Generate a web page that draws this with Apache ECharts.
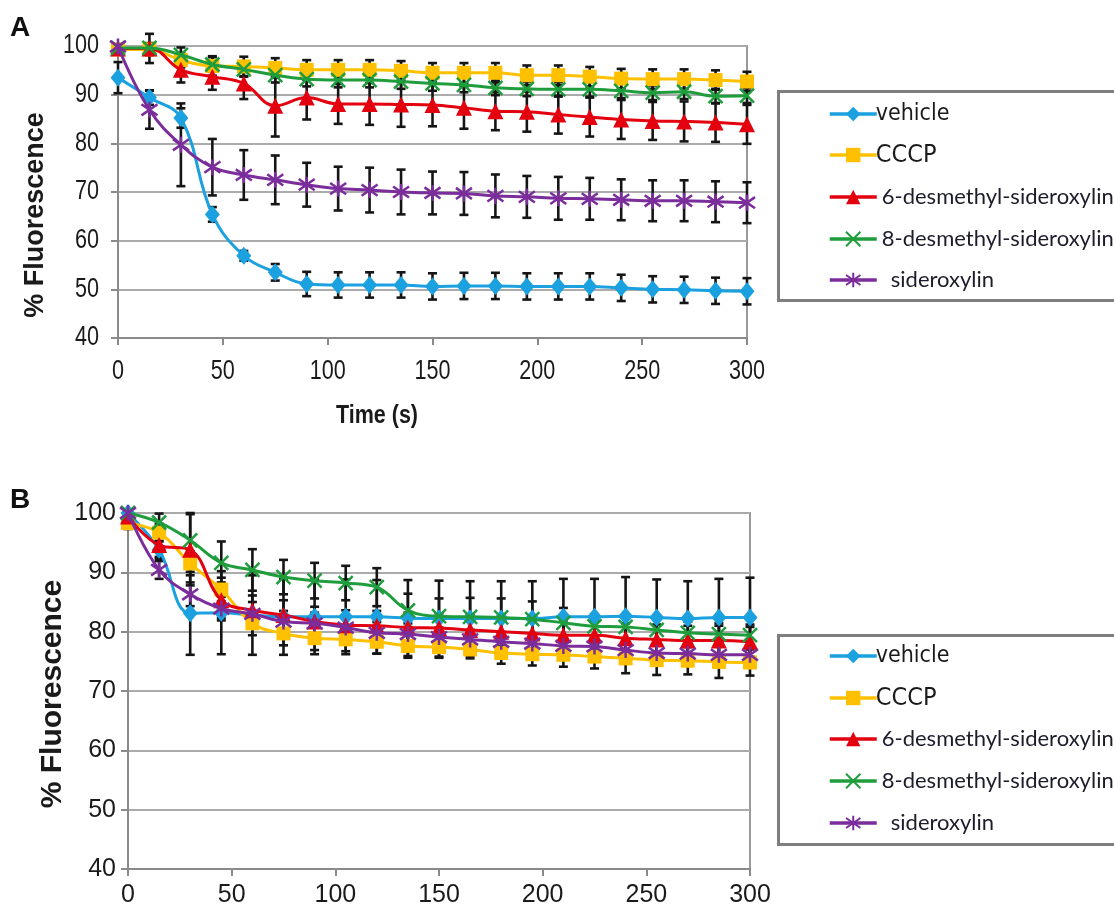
<!DOCTYPE html>
<html>
<head>
<meta charset="utf-8">
<script src="https://cdn.jsdelivr.net/npm/echarts@6/dist/echarts.min.js"></script>
<style>
  html, body { margin: 0; padding: 0; background: #ffffff; }
  #chart { width: 1114px; height: 913px; }
</style>
</head>
<body>
<div id="chart"></div>
<script>
// Sampling times (s)
const times = [0, 15, 30, 45, 60, 75, 90, 105, 120, 135, 150, 165, 180, 195, 210, 225, 240, 255, 270, 285, 300];
const xTicks = [0, 50, 100, 150, 200, 250, 300];
const yTicks = [40, 50, 60, 70, 80, 90, 100];

const seriesNames = ['vehicle', 'CCCP', '6-desmethyl-sideroxylin', '8-desmethyl-sideroxylin', 'sideroxylin'];

// Panel A — mean % fluorescence
const vehicleA = [93.5, 89.4, 85.2, 65.4, 56.9, 53.5, 51.1, 50.9, 50.9, 50.9, 50.6, 50.7, 50.7, 50.6, 50.6, 50.6, 50.3, 50.0, 49.9, 49.7, 49.6];
const cccpA    = [99.3, 99.3, 97.1, 95.9, 95.8, 95.5, 95.1, 95.1, 95.1, 94.9, 94.5, 94.5, 94.5, 94.0, 94.0, 93.7, 93.3, 93.2, 93.2, 93.0, 92.7];
const desm6A   = [99.5, 99.5, 95.1, 93.7, 92.3, 87.7, 89.4, 88.1, 88.1, 88.0, 87.9, 87.3, 86.6, 86.5, 85.9, 85.4, 84.9, 84.6, 84.5, 84.3, 83.9];
const desm8A   = [99.6, 99.6, 98.2, 96.2, 95.2, 94.0, 93.2, 93.0, 93.0, 92.7, 92.3, 92.0, 91.4, 91.2, 91.1, 91.1, 90.8, 90.4, 90.6, 89.7, 89.8];
const sideroA  = [99.9, 86.9, 79.7, 75.1, 73.5, 72.5, 71.5, 70.7, 70.4, 70.0, 69.8, 69.7, 69.2, 69.0, 68.7, 68.6, 68.4, 68.2, 68.2, 68.0, 67.8];

// Panel A — standard error
const vehicleAErr = [3.2, 1.5, 2.0, 1.5, 1.0, 1.7, 2.5, 2.6, 2.6, 2.6, 2.7, 2.7, 2.7, 2.7, 2.7, 2.7, 2.7, 2.7, 2.7, 2.7, 2.7];
const cccpAErr    = [1.0, 1.2, 1.5, 2.0, 2.0, 2.0, 2.0, 2.0, 2.0, 2.0, 2.0, 2.0, 2.0, 2.0, 2.0, 2.0, 2.0, 2.0, 2.0, 2.0, 2.0];
const desm6AErr   = [0.5, 3.0, 2.6, 2.7, 3.2, 6.3, 4.5, 4.1, 4.3, 4.6, 4.4, 4.3, 3.9, 4.1, 3.9, 4.0, 4.0, 3.9, 4.1, 4.0, 4.0];
const desm8AErr   = [0.5, 1.0, 1.5, 1.5, 1.5, 1.5, 1.5, 1.5, 1.5, 1.5, 1.5, 1.5, 1.5, 1.5, 1.5, 1.5, 1.5, 1.5, 1.5, 1.5, 1.5];
const sideroAErr  = [0.5, 3.9, 8.5, 5.8, 5.1, 5.0, 4.5, 4.5, 4.6, 4.6, 4.4, 4.4, 4.4, 4.3, 4.4, 4.3, 4.2, 4.2, 4.2, 4.2, 4.2];

// Panel B — mean % fluorescence
const vehicleB = [100, 93.8, 83.1, 83.2, 82.8, 82.5, 82.5, 82.5, 82.5, 82.3, 82.2, 82.2, 82.2, 82.2, 82.5, 82.5, 82.6, 82.4, 82.2, 82.4, 82.4];
const cccpB    = [98.3, 96.7, 91.5, 87.1, 81.4, 79.7, 78.9, 78.7, 78.3, 77.6, 77.4, 77.0, 76.4, 76.2, 76.1, 75.8, 75.5, 75.2, 75.1, 74.9, 74.8];
const desm6B   = [99.4, 94.6, 93.8, 85.3, 83.6, 82.8, 81.7, 81.1, 81.0, 80.7, 80.6, 80.3, 80.0, 79.7, 79.4, 79.4, 78.9, 78.7, 78.5, 78.5, 78.3];
const desm8B   = [100, 98.4, 95.4, 91.6, 90.4, 89.2, 88.6, 88.2, 87.5, 83.6, 82.6, 82.5, 82.4, 82.1, 81.5, 80.9, 80.8, 80.3, 79.8, 79.6, 79.4];
const sideroB  = [100, 90.4, 86.3, 83.9, 83.0, 81.7, 81.4, 80.7, 79.8, 79.6, 79.1, 78.7, 78.3, 78.0, 77.6, 77.5, 76.9, 76.4, 76.3, 76.1, 76.1];

// Panel B — standard error
const vehicleBErr = [0.5, 1.5, 7.0, 7.0, 6.7, 6.4, 6.3, 6.3, 6.2, 6.4, 6.4, 6.3, 6.3, 6.3, 6.4, 6.4, 6.6, 6.4, 6.3, 6.5, 6.7];
const cccpBErr    = [1.0, 1.5, 2.0, 2.0, 2.0, 2.0, 2.0, 2.0, 2.0, 2.0, 1.8, 1.5, 1.8, 1.9, 2.0, 2.0, 2.5, 2.5, 2.3, 2.7, 2.2];
const desm6BErr   = [0.5, 2.0, 6.0, 3.0, 2.5, 2.5, 2.5, 2.5, 2.5, 2.5, 2.5, 2.5, 2.5, 2.5, 2.5, 2.5, 2.5, 2.5, 2.5, 2.5, 2.5];
const desm8BErr   = [0.5, 1.5, 4.6, 3.6, 3.5, 2.9, 3.0, 2.9, 3.2, 2.8, 3.0, 3.2, 3.2, 3.0, 2.5, 2.0, 2.0, 2.0, 1.9, 1.8, 1.8];
const sideroBErr  = [0.5, 1.5, 2.0, 2.0, 2.0, 1.8, 1.8, 1.8, 1.8, 1.8, 1.6, 1.6, 1.6, 1.6, 1.6, 1.6, 1.6, 1.6, 1.6, 1.6, 1.6];

const colors = ['#1ba1df', '#ffc000', '#e3000f', '#1f9d3c', '#7b2d9b'];
const symbols = [
  'diamond',
  'rect',
  'triangle',
  'path://M0,0 L10,10 M10,0 L0,10',
  'path://M5,0 L5,10 M0.8,1.5 L9.2,8.5 M9.2,1.5 L0.8,8.5'
];
const symbolSizes = [[15, 18], 14, 16, 14, 16];
const strokeSymbol = [false, false, false, true, true];

const condensedFont = '"DejaVu Sans Condensed", "Liberation Sans", sans-serif';
const plainFont = '"Liberation Sans", Arial, sans-serif';
const legendFont = 'Lato, "Open Sans", sans-serif';
const textColor = '#1a1a1a';

function lineSeries(name, idx, values, axisIndex) {
  return {
    type: 'line',
    name: name,
    xAxisIndex: axisIndex,
    yAxisIndex: axisIndex,
    data: times.map((t, i) => [t, values[i]]),
    smooth: 0.4,
    symbol: symbols[idx],
    symbolSize: symbolSizes[idx],
    showAllSymbol: true,
    lineStyle: { color: colors[idx], width: 3 },
    itemStyle: strokeSymbol[idx]
      ? { color: colors[idx], borderColor: colors[idx], borderWidth: 2.5 }
      : { color: colors[idx] },
    emphasis: { disabled: true },
    z: 3 + idx,
    animation: false
  };
}

function errorSeries(values, errs, axisIndex) {
  return {
    type: 'custom',
    name: 'err',
    xAxisIndex: axisIndex,
    yAxisIndex: axisIndex,
    data: times.map((t, i) => [t, values[i] - errs[i], values[i] + errs[i]]),
    renderItem: function (params, api) {
      const x = api.value(0);
      const top = api.coord([x, api.value(2)]);
      const bot = api.coord([x, api.value(1)]);
      const w = 4.5;
      const st = { stroke: '#151515', lineWidth: 2.6 };
      return {
        type: 'group',
        children: [
          { type: 'line', shape: { x1: top[0], y1: top[1], x2: bot[0], y2: bot[1] }, style: st },
          { type: 'line', shape: { x1: top[0] - w, y1: top[1], x2: top[0] + w, y2: top[1] }, style: st },
          { type: 'line', shape: { x1: bot[0] - w, y1: bot[1], x2: bot[0] + w, y2: bot[1] }, style: st }
        ]
      };
    },
    z: 2,
    silent: true,
    animation: false
  };
}

const panelA = [vehicleA, cccpA, desm6A, desm8A, sideroA];
const panelAErr = [vehicleAErr, cccpAErr, desm6AErr, desm8AErr, sideroAErr];
const panelB = [vehicleB, cccpB, desm6B, desm8B, sideroB];
const panelBErr = [vehicleBErr, cccpBErr, desm6BErr, desm8BErr, sideroBErr];

const series = [];
panelA.forEach((v, i) => series.push(errorSeries(v, panelAErr[i], 0)));
panelB.forEach((v, i) => series.push(errorSeries(v, panelBErr[i], 1)));
panelA.forEach((v, i) => series.push(lineSeries(seriesNames[i], i, v, 0)));
panelB.forEach((v, i) => series.push(lineSeries(seriesNames[i], i, v, 1)));

// Panel A uses condensed tick labels, drawn below as narrowed text; its axis labels are hidden
function xAxis(gridIndex, showLabels) {
  return {
    type: 'value',
    gridIndex: gridIndex,
    min: xTicks[0],
    max: xTicks[xTicks.length - 1],
    interval: xTicks[1] - xTicks[0],
    axisLine: { show: true, onZero: false, lineStyle: { color: '#8a8a8a', width: 2 } },
    axisTick: { show: true, length: 7, lineStyle: { color: '#8a8a8a', width: 2 } },
    axisLabel: { show: showLabels, fontFamily: plainFont, fontSize: 25, color: textColor, margin: 14 },
    splitLine: { show: false }
  };
}

function yAxis(gridIndex, showLabels) {
  return {
    type: 'value',
    gridIndex: gridIndex,
    min: yTicks[0],
    max: yTicks[yTicks.length - 1],
    interval: yTicks[1] - yTicks[0],
    axisLine: { show: true, lineStyle: { color: '#8a8a8a', width: 2 } },
    axisTick: { show: true, length: 7, lineStyle: { color: '#8a8a8a', width: 2 } },
    axisLabel: { show: showLabels, fontFamily: plainFont, fontSize: 25, color: textColor, margin: 12 },
    splitLine: { show: true, lineStyle: { color: '#ababab', width: 2 } }
  };
}

// One legend per entry so each row sits at its own height inside the framed box
const legendRowsA = [112, 153, 195, 237, 278];
const legendRowsB = [654, 696, 737, 779, 821];

function legendItem(name, centerY) {
  let label;
  if (name === 'vehicle') label = '{a|' + name + '}';
  else if (name === 'CCCP') label = '{p|' + name + '}';
  else if (name === 'sideroxylin') label = '{c|' + name + '}';
  else label = '{b|' + name + '}';
  return {
    data: [name],
    orient: 'vertical',
    left: 823,
    top: centerY - 18,
    itemWidth: 47,
    itemHeight: 18,
    selectedMode: false,
    lineStyle: { width: 3.5 },
    formatter: function () { return label; },
    textStyle: {
      rich: {
        a: { fontFamily: condensedFont, fontSize: 23, color: textColor, lineHeight: 30, height: 30, padding: [0, 0, 0, -6] },
        p: { fontFamily: condensedFont, fontSize: 25, color: textColor, lineHeight: 30, height: 30, padding: [0, 0, 0, -6] },
        b: { fontFamily: legendFont, fontSize: 22, color: '#1c1c2a', lineHeight: 30, height: 30, padding: [0, 0, 0, 0] },
        c: { fontFamily: legendFont, fontSize: 22, color: '#1c1c2a', lineHeight: 30, height: 30, padding: [0, 0, 0, 9] }
      }
    }
  };
}

const legends = [];
seriesNames.forEach((n, i) => legends.push(legendItem(n, legendRowsA[i])));
seriesNames.forEach((n, i) => legends.push(legendItem(n, legendRowsB[i])));

const staticGraphics = [
  { type: 'text', left: 10, top: 14, style: { text: 'A', font: 'bold 28px "Liberation Sans", Arial, sans-serif', fill: '#111' } },
  { type: 'text', left: 10, top: 486, style: { text: 'B', font: 'bold 28px "Liberation Sans", Arial, sans-serif', fill: '#111' } },
  { type: 'text', x: 36, y: 215, rotation: Math.PI / 2,
    style: { text: '% Fluorescence', font: 'bold 27px "Liberation Sans", Arial, sans-serif', fill: textColor, align: 'center', verticalAlign: 'middle' } },
  { type: 'text', x: 53, y: 694, rotation: Math.PI / 2,
    style: { text: '% Fluorescence', font: 'bold 30px "Liberation Sans", Arial, sans-serif', fill: textColor, align: 'center', verticalAlign: 'middle' } },
  { type: 'text', x: 377, y: 416, scaleX: 0.86,
    style: { text: 'Time (s)', font: 'bold 25px "Liberation Sans", Arial, sans-serif', fill: textColor, align: 'center', verticalAlign: 'middle' } },
  { type: 'rect', left: 776, top: 89, shape: { width: 360, height: 209 }, style: { fill: 'none', stroke: '#7f7f7f', lineWidth: 3 } },
  { type: 'rect', left: 776, top: 633, shape: { width: 360, height: 209 }, style: { fill: 'none', stroke: '#7f7f7f', lineWidth: 3 } }
];

const option = {
  backgroundColor: '#ffffff',
  animation: false,
  grid: [
    { left: 118, top: 46, width: 629, height: 292, show: true, borderColor: '#9a9a9a', borderWidth: 2, backgroundColor: 'transparent' },
    { left: 128, top: 513, width: 622, height: 356, show: true, borderColor: '#9a9a9a', borderWidth: 2, backgroundColor: 'transparent' }
  ],
  xAxis: [xAxis(0, false), xAxis(1, true)],
  yAxis: [yAxis(0, false), yAxis(1, true)],
  legend: legends,
  graphic: staticGraphics,
  series: series
};

const chart = echarts.init(document.getElementById('chart'), null, { renderer: 'canvas' });
chart.setOption(option);

// Narrow tick labels for panel A, placed through the panel's own axis scales
const tickFont = '27px "Liberation Sans", Arial, sans-serif';
const tickLabels = [];
yTicks.forEach(function (v) {
  const p = chart.convertToPixel({ gridIndex: 0 }, [xTicks[0], v]);
  tickLabels.push({ type: 'text', x: p[0] - 19, y: p[1], scaleX: 0.8, silent: true,
    style: { text: String(v), font: tickFont, fill: textColor, align: 'right', verticalAlign: 'middle' } });
});
xTicks.forEach(function (t) {
  const p = chart.convertToPixel({ gridIndex: 0 }, [t, yTicks[0]]);
  tickLabels.push({ type: 'text', x: p[0], y: p[1] + 34, scaleX: 0.8, silent: true,
    style: { text: String(t), font: tickFont, fill: textColor, align: 'center', verticalAlign: 'middle' } });
});
chart.setOption({ graphic: staticGraphics.concat(tickLabels) });
</script>
</body>
</html>
